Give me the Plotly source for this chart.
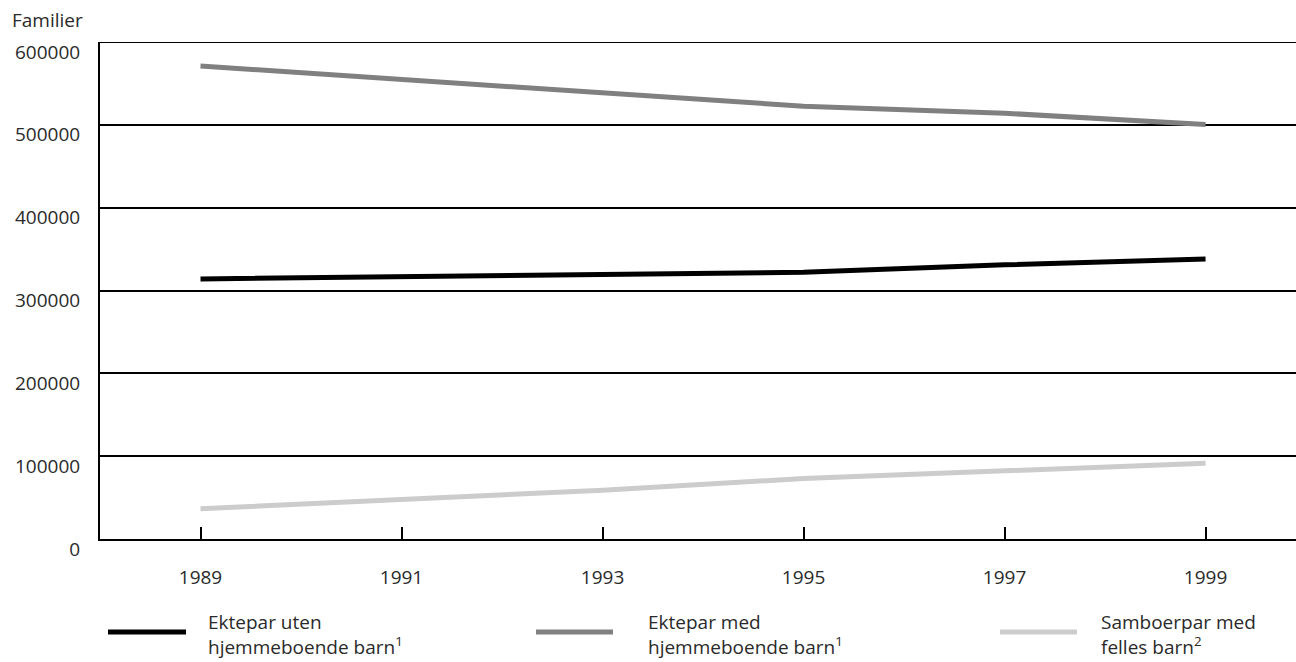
import plotly.graph_objects as go

years = [1989, 1991, 1993, 1995, 1997, 1999]
ektepar_uten = [314000, 317000, 319500, 322000, 331000, 338000]
ektepar_med = [571000, 555000, 538000, 522500, 514000, 500500]
samboerpar = [36500, 47000, 59000, 73000, 81500, 91500]
y_ticks = [0, 100000, 200000, 300000, 400000, 500000, 600000]

series = [
    ("Ektepar uten<br>hjemmeboende barn<sup>1</sup>", ektepar_uten, "#000000"),
    ("Ektepar med<br>hjemmeboende barn<sup>1</sup>", ektepar_med, "#808080"),
    ("Samboerpar med<br>felles barn<sup>2</sup>", samboerpar, "#cccccc"),
]

W, H = 1296, 662
L, R, T, B = 100, 0, 42, 123
pw, ph = W - L - R, H - T - B

def px(x):
    return (x - L) / pw

def py(y):
    return (H - B - y) / ph

fig = go.Figure()
for name, vals, col in series:
    fig.add_trace(go.Scatter(x=years, y=vals, mode="lines", name=name,
                             line=dict(color=col, width=5), showlegend=False))

font = "Open Sans, Noto Sans, sans-serif"
txtcol = "#2a2a2a"

fig.update_layout(
    width=W, height=H,
    margin=dict(l=L, r=R, t=T, b=B),
    paper_bgcolor="white", plot_bgcolor="white",
    font=dict(family=font, size=19, color=txtcol),
    xaxis=dict(range=[1988, 1999.9], tickvals=years, ticktext=[str(y) for y in years],
               showgrid=False, zeroline=False, showline=True, linecolor="black", linewidth=2,
               ticks="inside", ticklen=12, tickwidth=2, tickcolor="black",
               ticklabelstandoff=20, tickfont=dict(size=19, color=txtcol)),
    yaxis=dict(range=[0, max(y_ticks)], tickvals=y_ticks,
               ticktext=[str(v) for v in y_ticks],
               showgrid=True, gridcolor="black", gridwidth=2, zeroline=False,
               showline=True, linecolor="black", linewidth=2, ticks="",
               ticklabelstandoff=14, ticklabelshift=10, tickfont=dict(size=19, color=txtcol)),
)

# top border line at the 600000 gridline
fig.add_shape(type="line", xref="paper", yref="y", x0=0, x1=1,
              y0=max(y_ticks), y1=max(y_ticks), line=dict(color="black", width=2), layer="below")

fig.add_annotation(text="Familier", xref="paper", yref="paper", x=px(10), y=py(20),
                   xanchor="left", yanchor="middle", showarrow=False,
                   font=dict(size=19, color=txtcol))

legend_pos = [(108, 186, 206), (536, 613, 646), (1000, 1077, 1099)]
for (name, vals, col), (x0, x1, xt) in zip(series, legend_pos):
    fig.add_shape(type="line", xref="paper", yref="paper",
                  x0=px(x0), x1=px(x1), y0=py(632), y1=py(632),
                  line=dict(color=col, width=5))
    fig.add_annotation(text=name, xref="paper", yref="paper", x=px(xt), y=py(634),
                       xanchor="left", yanchor="middle", align="left", showarrow=False,
                       font=dict(size=19, color=txtcol))

fig.write_html("out.html", config={"displayModeBar": False},
               post_script="document.body.style.margin='0';document.body.style.overflow='hidden';")
